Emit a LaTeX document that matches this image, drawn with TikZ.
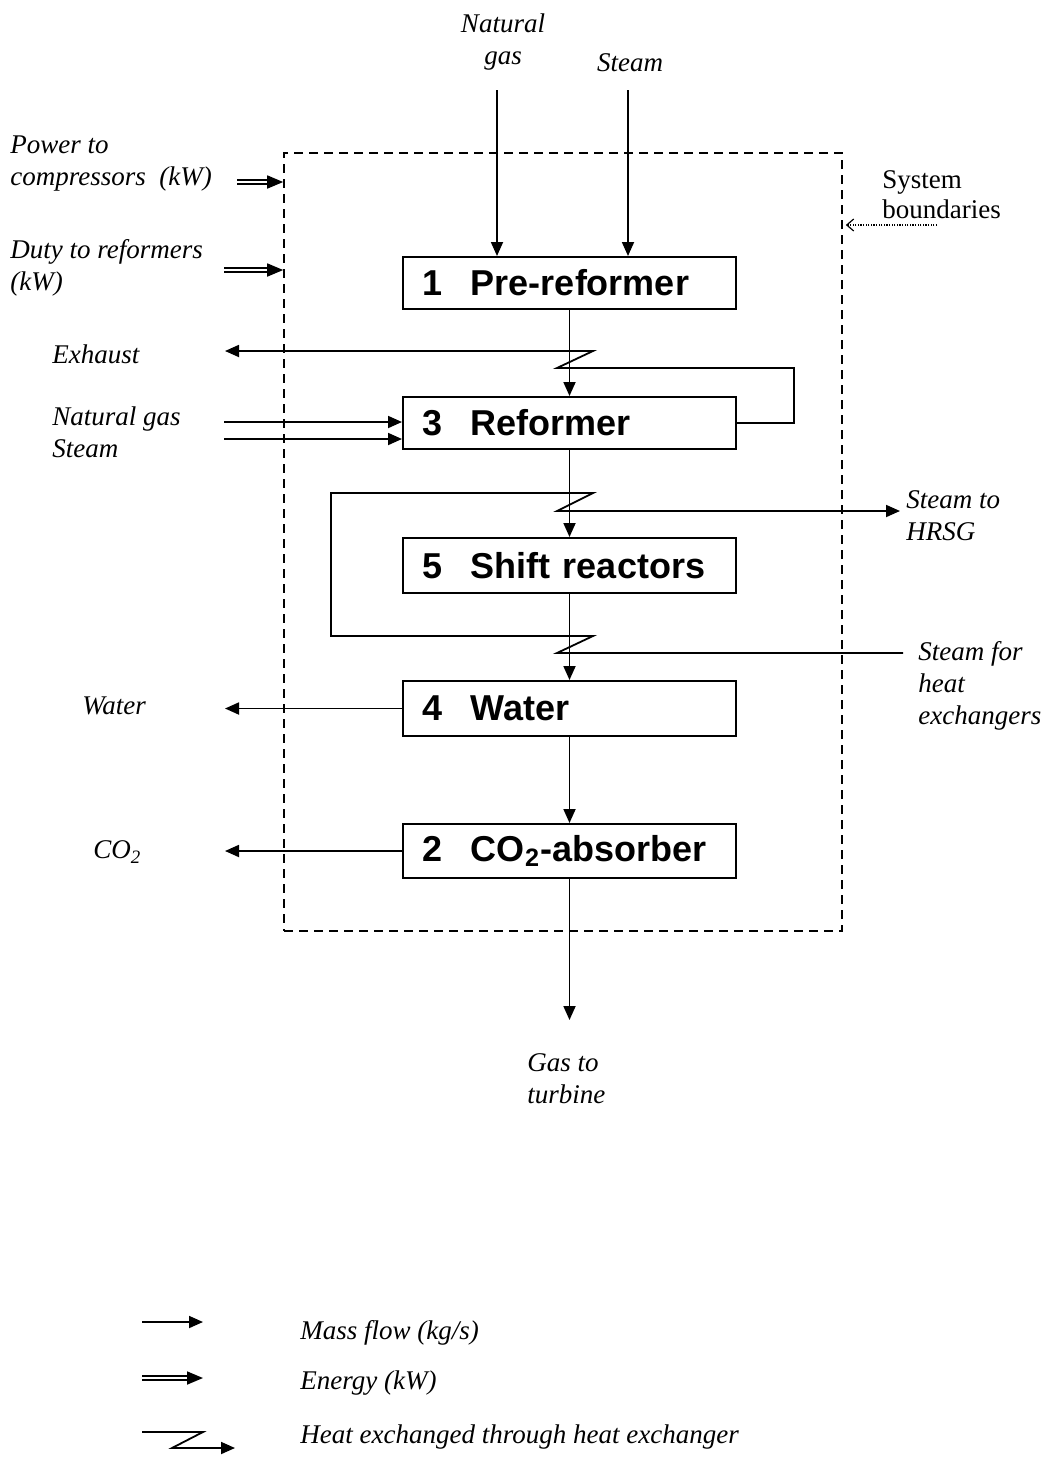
\documentclass[tikz,border=0pt]{standalone}
\usepackage{fontspec}
\setmainfont{Liberation Serif}
\setsansfont{Liberation Sans}
\usetikzlibrary{arrows.meta}

\newcommand{\unitname}[2]{\makebox[24.5pt][l]{#1}#2}

\begin{document}
\begin{tikzpicture}[x=0.5pt,y=-0.5pt,
		flow/.style={line width=0.9pt,-{Triangle[length=7pt,width=6pt]}},
		energy/.style={double,double distance=1.4pt,line width=0.85pt,-{Triangle[length=8pt,width=6.5pt]}},
		unit/.style={draw,line width=1pt,anchor=north west,minimum height=26pt,
			inner xsep=9.5pt,text width=147.5pt,align=left,
			font=\sffamily\bfseries\fontsize{18}{20}\selectfont},
		lbl/.style={font=\itshape\fontsize{13.5}{16}\selectfont,align=left,anchor=west,inner sep=0pt}]
		\useasboundingbox (0,0) rectangle (1048,1457);
		
		% system boundary
		\node[draw,dash pattern=on 4.5pt off 3pt,line width=0.8pt,minimum width=279pt,
			minimum height=389pt,inner sep=0pt] (sysbnd) at (563,542) {};
		
		% units
		\node[unit] (pre) at (402,256) {\unitname{1}{Pre-reformer}};
		\node[unit] (ref) at (402,396) {\unitname{3}{Reformer}};
		\node[unit,minimum height=27.5pt] (shift) at (402,537) {\unitname{5}{Shift reactors}};
		\node[unit,minimum height=27.5pt] (water) at (402,680) {\unitname{4}{Water}};
		\node[unit,minimum height=27pt] (co2) at (402,823) {\unitname{2}{CO\textsubscript{2}-absorber}};
		
		% labels
		\node[lbl,align=center,anchor=center] (ngtxt) at (503,42) {Natural\\gas};
		\node[lbl,anchor=center] (sttxt) at (630,63) {Steam};
		\node[lbl] (pwr) at (10,164) {Power to\\compressors~~(kW)};
		\node[lbl] (duty) at (10,268) {Duty to reformers\\(kW)};
		\node[lbl,font=\fontsize{13.5}{15}\selectfont] (sbtxt) at (882,195) {System\\boundaries};
		\node[lbl] (exh) at (52,354) {Exhaust};
		\node[lbl] (ngst) at (52,432) {Natural gas\\Steam};
		\node[lbl] (hrsg) at (906,516) {Steam to\\HRSG};
		\node[lbl] (hxst) at (918,686) {Steam for\\heat\\exchangers};
		\node[lbl] (wtr) at (82,706) {Water};
		\node[lbl] (co2txt) at (93,852) {CO\textsubscript{2}};
		\node[lbl] (gas) at (527,1079) {Gas to\\turbine};
		
		% free ends
		\coordinate (ngtop) at (497,90);
		\coordinate (sttop) at (628,90);
		\coordinate (pwrin) at (237,182);
		\coordinate (dutyin) at (224,270);
		\coordinate (sbtail) at (937,225);
		\coordinate (exhend) at (225,351);
		\coordinate (ngin) at (224,422);
		\coordinate (stin) at (224,439);
		\coordinate (hrsgend) at (900,511);
		\coordinate (hxsin) at (903,653);
		\coordinate (gasend) at (568.5,1020);
		
		% heat exchanger corners
		\coordinate (hx1top) at (593,351);
		\coordinate (hx1bot) at (557,368);
		\coordinate (hx1loop) at (794,368);
		\coordinate (hx2top) at (593,493);
		\coordinate (hx2bot) at (557,511);
		\coordinate (hx3top) at (593,636);
		\coordinate (hx3bot) at (557,653);
		\coordinate (looptop) at (331,493);
		\coordinate (loopbot) at (331,636);
		
		% mass flows
		\draw[flow] (ngtop) -- (ngtop |- pre.north);
		\draw[flow] (sttop) -- (sttop |- pre.north);
		\draw[flow] (pre) -- (ref);
		\draw[flow] (ref) -- (shift);
		\draw[flow] (shift) -- (water);
		\draw[flow] (water) -- (co2);
		\draw[flow] (co2.south) -- (co2.south |- gasend);
		\draw[flow] (ngin) -- (ngin -| ref.west);
		\draw[flow] (stin) -- (stin -| ref.west);
		\draw[flow] (water.west) -- (water.west -| exhend);
		\draw[flow] (co2.west) -- (co2.west -| exhend);
		
		% heat exchangers
		\draw[flow] (ref.east) -| (hx1loop) -- (hx1bot) -- (hx1top) -- (exhend);
		\draw[flow] (hxsin) -- (hx3bot) -- (hx3top) -- (loopbot) -- (looptop)
			-- (hx2top) -- (hx2bot) -- (hrsgend);
		
		% energy
		\draw[energy] (pwrin) -- (pwrin -| sysbnd.west);
		\draw[energy] (dutyin) -- (dutyin -| sysbnd.west);
		
		\draw[line width=0.6pt,dash pattern=on 0.6pt off 0.7pt,
			-{Straight Barb[length=3.5pt,width=6pt,line width=0.6pt]}]
			(sbtail) -- ([xshift=1.5pt]sbtail -| sysbnd.east);
		
		% legend
		\coordinate (lgm) at (142,1322);
		\coordinate (lge) at (142,1378);
		\coordinate (lgh) at (142,1432);
		\draw[flow] (lgm) -- ++(61,0);
		\draw[energy] (lge) -- ++(61,0);
		\draw[flow] (lgh) -- ++(61,0) -- ++(-31,16) -- ++(63,0);
		\node[lbl] (lgmtxt) at (300,1333) {Mass flow (kg/s)};
		\node[lbl] (lgetxt) at (300,1383) {Energy (kW)};
		\node[lbl] (lghtxt) at (300,1437) {Heat exchanged through heat exchanger};
\end{tikzpicture}
\end{document}
